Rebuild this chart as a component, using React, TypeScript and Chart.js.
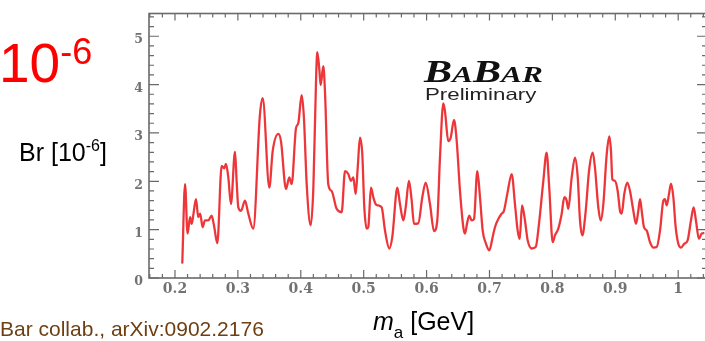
import { useEffect, useRef } from "react";
import { Chart, registerables } from "chart.js";

Chart.register(...registerables);

// Axion mass scan: upper limit on the branching fraction vs. m_a
const MASS_GEV = [
  0.2116, 0.216, 0.22, 0.224, 0.2265, 0.229, 0.2334, 0.237, 0.24, 0.244,
  0.2477, 0.253, 0.2583, 0.2625, 0.2673, 0.2742, 0.2784, 0.281, 0.2848, 0.289,
  0.2954, 0.298, 0.3007, 0.305, 0.3113, 0.3166, 0.3245, 0.335, 0.3395, 0.35,
  0.3553, 0.3643, 0.3685, 0.3765, 0.3817, 0.3855, 0.3924, 0.396, 0.4014, 0.405,
  0.4094, 0.4157, 0.42, 0.4242, 0.4262, 0.4294, 0.4316, 0.4358, 0.4385, 0.4437,
  0.449, 0.457, 0.465, 0.4703, 0.4755, 0.4798, 0.4835, 0.4873, 0.4905, 0.4941,
  0.4978, 0.501, 0.5048, 0.5073, 0.5116, 0.5153, 0.519, 0.5232, 0.5286, 0.5339,
  0.5407, 0.5455, 0.5535, 0.5577, 0.563, 0.5668, 0.572, 0.5763, 0.58, 0.5868,
  0.5932, 0.5986, 0.6054, 0.6118, 0.617, 0.6213, 0.6266, 0.6293, 0.6345, 0.6383,
  0.6436, 0.6479, 0.6531, 0.6584, 0.661, 0.6647, 0.6679, 0.6717, 0.6754, 0.6806,
  0.6849, 0.6892, 0.6944, 0.6997, 0.7051, 0.7087, 0.714, 0.7194, 0.723, 0.7283,
  0.7353, 0.7405, 0.7448, 0.748, 0.7518, 0.7564, 0.7607, 0.767, 0.7735, 0.7787,
  0.7856, 0.7908, 0.795, 0.8005, 0.8041, 0.8094, 0.8148, 0.819, 0.8227, 0.8253,
  0.8307, 0.8359, 0.8403, 0.8439, 0.8476, 0.853, 0.8582, 0.8641, 0.8677, 0.873,
  0.8768, 0.881, 0.8863, 0.8905, 0.8932, 0.8953, 0.8995, 0.9038, 0.9075, 0.9102,
  0.9143, 0.9191, 0.9234, 0.9287, 0.9329, 0.9366, 0.9393, 0.942, 0.9456, 0.95,
  0.9552, 0.9605, 0.9658, 0.9711, 0.9764, 0.979, 0.9817, 0.9854, 0.9886, 0.9923,
  0.996, 1.0002, 1.0045, 1.0098, 1.015, 1.0203, 1.0246, 1.0282, 1.033, 1.0374,
  1.0415,
];

const BR_LIMIT = [
  0.3, 1.94, 0.92, 1.26, 1.12, 1.29, 1.63, 1.26, 1.33, 1.05,
  1.19, 1.19, 1.29, 1.05, 0.72, 2.32, 2.27, 2.36, 2.08, 1.53,
  2.61, 2.01, 1.46, 1.39, 1.6, 1.33, 1.02, 3.37, 3.72, 1.87,
  2.62, 2.98, 2.83, 1.84, 2.08, 1.94, 3.1, 3.2, 3.78, 3.31,
  1.94, 1.09, 1.87, 4.06, 4.67, 4.33, 3.99, 4.38, 3.85, 1.94,
  1.8, 1.43, 1.36, 2.21, 2.15, 2.01, 2.08, 1.74, 2.28, 2.9,
  2.56, 1.46, 1.02, 1.05, 1.87, 1.67, 1.53, 1.5, 1.46, 0.98,
  0.61, 0.85, 1.87, 1.53, 1.19, 1.46, 2.01, 1.6, 1.12, 1.13,
  1.67, 1.97, 1.53, 0.97, 1.19, 2.49, 3.61, 3.44, 2.83, 2.9,
  3.27, 2.83, 1.8, 1.05, 0.92, 1.15, 1.29, 1.19, 1.22, 2.21,
  1.67, 0.98, 0.71, 0.57, 0.85, 1.05, 1.22, 1.33, 1.39, 1.74,
  2.15, 1.53, 0.98, 0.81, 1.5, 1.19, 0.78, 0.61, 0.64, 1.12,
  2.01, 2.59, 1.87, 0.74, 0.88, 1.02, 1.33, 1.67, 1.6, 1.43,
  2.08, 2.49, 2.08, 1.19, 0.88, 1.39, 2.21, 2.59, 2.28, 1.46,
  1.19, 1.53, 2.55, 2.93, 2.62, 2.04, 2.01, 1.8, 1.39, 1.33,
  1.74, 1.97, 1.8, 1.39, 1.12, 1.39, 1.63, 1.39, 1.05, 0.98,
  0.74, 0.63, 0.64, 0.98, 1.6, 1.63, 1.5, 1.74, 1.95, 1.67,
  1.05, 0.71, 0.63, 0.71, 0.78, 1.19, 1.46, 1.19, 0.81, 0.92,
  0.93,
];

const X_TICK_LABELS = ["0.2", "0.3", "0.4", "0.5", "0.6", "0.7", "0.8", "0.9", "1"];
const Y_TICK_LABELS = ["0", "1", "2", "3", "4", "5"];
const MINOR_DIVISIONS = 5;

const X_MIN = 0.1587;
const X_MAX = 1.0458;
const Y_MIN = 0;
const Y_MAX = 5.47;

const AXIS_GREY = "#6a6a6a";
const LABEL_GREY = "#727272";

// Major ticks from the label lists, minor ticks subdividing them across the full range
function buildTickValues(labels: string[], min: number, max: number) {
  const majors = labels.map(Number);
  const step = (majors[1] - majors[0]) / MINOR_DIVISIONS;
  const first = majors[0] - step * Math.floor((majors[0] - min) / step + 1e-9);
  const out: number[] = [];
  for (let i = 0; ; i++) {
    const v = Math.round((first + i * step) * 1e6) / 1e6;
    if (v > max + 1e-9) break;
    out.push(v);
  }
  return out;
}

function labelFor(labels: string[], value: number) {
  const idx = labels.findIndex((l) => Math.abs(Number(l) - value) < 1e-6);
  return idx >= 0 ? labels[idx] : "";
}

function isMajorTick(labels: string[], value: number) {
  return labels.some((l) => Math.abs(Number(l) - value) < 1e-6);
}

// Inward tick marks on all four sides plus the box frame
const frameTicksPlugin = {
  id: "frameTicks",
  afterDatasetsDraw(chart: any) {
    const { ctx, chartArea: a, scales } = chart;
    ctx.save();
    ctx.strokeStyle = AXIS_GREY;
    ctx.lineWidth = 1.2;
    ctx.beginPath();
    for (const t of scales.x.ticks) {
      const px = scales.x.getPixelForValue(t.value);
      const major = isMajorTick(X_TICK_LABELS, t.value);
      const lenB = major ? 8 : 4;
      const lenT = major ? 7 : 4;
      ctx.moveTo(px, a.bottom);
      ctx.lineTo(px, a.bottom - lenB);
      ctx.moveTo(px, a.top);
      ctx.lineTo(px, a.top + lenT);
    }
    for (const t of scales.y.ticks) {
      const py = scales.y.getPixelForValue(t.value);
      const major = isMajorTick(Y_TICK_LABELS, t.value);
      const len = major ? 10 : 5;
      ctx.moveTo(a.left, py);
      ctx.lineTo(a.left + len, py);
      ctx.moveTo(a.right, py);
      ctx.lineTo(a.right - len, py);
    }
    ctx.stroke();
    ctx.lineWidth = 1.6;
    ctx.strokeRect(a.left, a.top, a.right - a.left, a.bottom - a.top);
    ctx.restore();
  },
};

function drawText(
  ctx: CanvasRenderingContext2D,
  text: string,
  x: number,
  y: number,
  font: string,
  color: string,
  stretch = 1
) {
  ctx.save();
  ctx.font = font;
  ctx.fillStyle = color;
  ctx.textBaseline = "alphabetic";
  ctx.textAlign = "left";
  ctx.translate(x, y);
  ctx.scale(stretch, 1);
  ctx.fillText(text, 0, 0);
  const w = ctx.measureText(text).width * stretch;
  ctx.restore();
  return x + w;
}

// Slide annotations, axis titles and the experiment logo
const annotationsPlugin = {
  id: "annotations",
  afterDraw(chart: any) {
    const ctx: CanvasRenderingContext2D = chart.ctx;
    const sans = "'Liberation Sans', Arial, sans-serif";
    const serif = "'Liberation Serif', 'Times New Roman', serif";

    // Scale factor of the limit
    let x = drawText(ctx, "10", -1, 82, `55px ${sans}`, "#ff0000");
    drawText(ctx, "-6", x, 64, `36px ${sans}`, "#ff0000");

    // Y-axis title
    x = drawText(ctx, "Br [10", 19, 161, `25px ${sans}`, "#000000");
    x = drawText(ctx, "-6", x, 151, `16px ${sans}`, "#000000");
    drawText(ctx, "]", x, 161, `25px ${sans}`, "#000000");

    // X-axis title
    x = drawText(ctx, "m", 373, 330, `italic 25px ${sans}`, "#000000");
    x = drawText(ctx, "a", x, 338, `17px ${sans}`, "#000000");
    drawText(ctx, " [GeV]", x, 330, `25px ${sans}`, "#000000");

    // Reference
    drawText(ctx, "Bar collab., arXiv:0902.2176", 0, 336, `21px ${sans}`, "#6e3f12");

    // Logo
    const big = `bold italic 31px ${serif}`;
    const small = `bold italic 23px ${serif}`;
    const st = 1.36;
    x = drawText(ctx, "B", 424, 82, big, "#111111", st);
    x = drawText(ctx, "A", x, 82, small, "#111111", st);
    x = drawText(ctx, "B", x, 82, big, "#111111", st);
    x = drawText(ctx, "A", x, 82, small, "#111111", st);
    drawText(ctx, "R", x, 82, small, "#111111", st);
    drawText(ctx, "Preliminary", 425, 100, `16.5px ${sans}`, "#222222", 1.35);
  },
};

export default function App() {
  const canvasRef = useRef<HTMLCanvasElement | null>(null);

  useEffect(() => {
    const canvas = canvasRef.current;
    if (!canvas) return;
    const points = MASS_GEV.map((m, i) => ({ x: m, y: BR_LIMIT[i] }));
    const xTicks = buildTickValues(X_TICK_LABELS, X_MIN, X_MAX);
    const yTicks = buildTickValues(Y_TICK_LABELS, Y_MIN, Y_MAX);
    const tickFont = { family: "'DejaVu Serif', serif", weight: "bold" as const };

    const chart = new Chart(canvas, {
      type: "line",
      data: {
        datasets: [
          {
            data: points,
            borderColor: "rgba(238, 40, 44, 0.9)",
            borderWidth: 2.3,
            pointRadius: 0,
            cubicInterpolationMode: "monotone",
            fill: false,
          },
          {
            data: points,
            borderColor: "rgba(140, 40, 40, 0.65)",
            borderWidth: 0.8,
            pointRadius: 0,
            cubicInterpolationMode: "monotone",
            fill: false,
          },
        ],
      },
      options: {
        animation: false,
        responsive: false,
        devicePixelRatio: 1,
        layout: { padding: { top: 11, right: 1, left: 0, bottom: 0 } },
        plugins: {
          legend: { display: false },
          tooltip: { enabled: false },
        },
        scales: {
          x: {
            type: "linear",
            min: X_MIN,
            max: X_MAX,
            grid: { display: false, drawTicks: false, tickLength: 0 },
            border: { display: false },
            afterBuildTicks: (scale: any) => {
              scale.ticks = xTicks.map((v) => ({ value: v }));
            },
            afterFit: (scale: any) => {
              scale.height = 63;
            },
            ticks: {
              autoSkip: false,
              maxRotation: 0,
              minRotation: 0,
              padding: 3,
              color: LABEL_GREY,
              font: { ...tickFont, size: 14 },
              callback: (v: any) => labelFor(X_TICK_LABELS, Number(v)),
            },
          },
          y: {
            type: "linear",
            min: Y_MIN,
            max: Y_MAX,
            grid: { display: false, drawTicks: false, tickLength: 0 },
            border: { display: false },
            afterBuildTicks: (scale: any) => {
              scale.ticks = yTicks.map((v) => ({ value: v }));
            },
            afterFit: (scale: any) => {
              scale.width = 149;
            },
            ticks: {
              autoSkip: false,
              padding: 6,
              labelOffset: 4,
              color: LABEL_GREY,
              font: { ...tickFont, size: 12.5 },
              callback: (v: any) => labelFor(Y_TICK_LABELS, Number(v)),
            },
          },
        },
      },
      plugins: [frameTicksPlugin, annotationsPlugin],
    });

    return () => chart.destroy();
  }, []);

  return (
    <div
      style={{
        position: "fixed",
        left: 0,
        top: 0,
        width: 705,
        height: 341,
        overflow: "hidden",
        background: "#ffffff",
      }}
    >
      <canvas ref={canvasRef} width={708} height={341} style={{ display: "block" }} />
    </div>
  );
}
